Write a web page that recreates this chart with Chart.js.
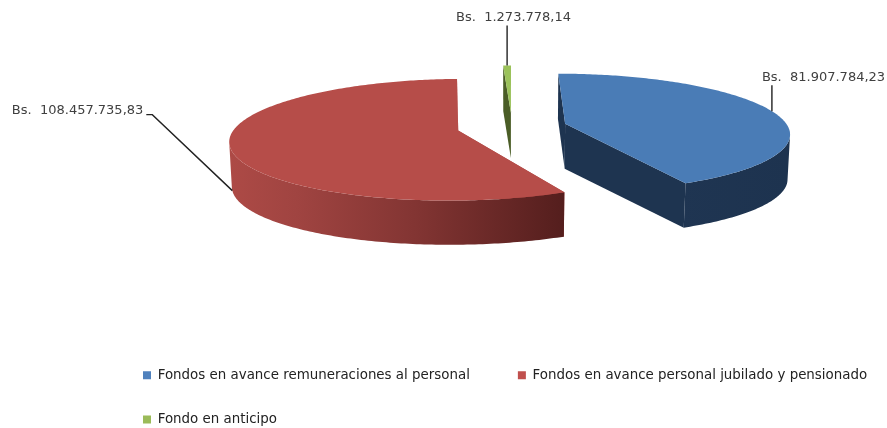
<!DOCTYPE html>
<html>
<head>
<meta charset="utf-8">
<title>Fondos</title>
<script src="https://cdn.jsdelivr.net/npm/chart.js@4/dist/chart.umd.js"></script>
<style>
  html, body { margin: 0; padding: 0; background: #fff; }
  canvas { display: block; filter: blur(0.4px); }
</style>
</head>
<body>
<canvas id="pieChart" width="887" height="428"></canvas>
<script>
const categories = [
  "Fondos en avance remuneraciones al personal",
  "Fondos en avance personal jubilado y pensionado",
  "Fondo en anticipo",
];
const amounts = [81907784.23, 108457735.83, 1273778.14];
const topColors = ["#4a7cb6", "#b64d49", "#9bc25a"];
const legendColors = ["#4f81bd", "#c0504d", "#9bbb59"];

// side wall shading per slice: [position across the slice, colour]
const sideShades = [
  [[0, "#1e3450"], [0.5, "#1f3552"], [1, "#1d334f"]],
  [[0, "#ad4a46"], [0.2, "#a04441"], [0.55, "#833533"], [1, "#541e1d"]],
  [[0, "#4a5d26"], [1, "#55692c"]],
];

// camera used to tip the pie over
const view = { x: 512, y: 127, tilt: 0.262, dist: 1500, depth: 45, sink: 0.3 };

function project(u, v, h) {
  const s = view.dist / (view.dist - v + h * view.sink);
  return { x: view.x + u * s, y: view.y + v * view.tilt * s + h };
}

function slicePoint(arc, angle, r, h) {
  const mid = (arc.startAngle + arc.endAngle) / 2;
  const off = arc.options.offset;
  const u = Math.cos(mid) * off + Math.cos(angle) * r;
  const v = Math.sin(mid) * off + Math.sin(angle) * r;
  return project(u, v, h);
}

function fillPoly(ctx, pts, fill) {
  ctx.beginPath();
  pts.forEach((p, i) => (i ? ctx.lineTo(p.x, p.y) : ctx.moveTo(p.x, p.y)));
  ctx.closePath();
  ctx.fillStyle = fill;
  ctx.fill();
}

function rimAngles(arc) {
  const out = [];
  const steps = Math.max(4, Math.ceil((arc.endAngle - arc.startAngle) / 0.015));
  for (let i = 0; i <= steps; i++) {
    out.push(arc.startAngle + ((arc.endAngle - arc.startAngle) * i) / steps);
  }
  return out;
}

function drawSlice(ctx, arc, index) {
  const R = arc.outerRadius;
  const angles = rimAngles(arc);
  const top = angles.map((a) => slicePoint(arc, a, R, 0));
  const bottom = angles.map((a) => slicePoint(arc, a, R, view.depth));
  const last = angles.length - 1;
  const apexTop = slicePoint(arc, 0, 0, 0);
  const apexBottom = slicePoint(arc, 0, 0, view.depth);

  const xs = top.concat(bottom).map((p) => p.x);
  const grad = ctx.createLinearGradient(Math.min(...xs), 0, Math.max(...xs), 0);
  sideShades[index].forEach(([at, c]) => grad.addColorStop(at, c));

  // the two cut walls, then the rim, then the top face over them
  fillPoly(ctx, [apexTop, top[0], bottom[0], apexBottom], sideShades[index][0][1]);
  fillPoly(ctx, [apexTop, top[last], bottom[last], apexBottom], sideShades[index][0][1]);
  // only the part of the rim that faces the viewer runs right to left
  const front = [];
  for (let i = 0; i <= last; i++) {
    if ((i < last && top[i + 1].x < top[i].x) || (i > 0 && top[i].x < top[i - 1].x)) front.push(i);
  }
  if (front.length) {
    const upper = front.map((i) => top[i]);
    const lower = front.map((i) => bottom[i]).reverse();
    fillPoly(ctx, upper.concat(lower), grad);
  }
  fillPoly(ctx, [apexTop].concat(top), topColors[index]);
}

function money(value) {
  return "Bs.  " + value.toLocaleString("de-DE", { minimumFractionDigits: 2, maximumFractionDigits: 2 });
}

// leader line: from the slice rim, through a bend, to the label
function drawLeader(ctx, arc, index) {
  const mid = (arc.startAngle + arc.endAngle) / 2;
  const text = money(amounts[index]);
  const onSide = index === 1;
  const start = slicePoint(arc, mid, arc.outerRadius, onSide ? view.depth : 0);

  ctx.strokeStyle = "#222";
  ctx.lineWidth = 1.4;
  ctx.beginPath();
  ctx.moveTo(start.x, start.y);
  if (onSide) {
    ctx.lineTo(start.x - 80, start.y - 76);
    ctx.lineTo(start.x - 86, start.y - 76);
  } else {
    ctx.lineTo(start.x, start.y - (index === 2 ? 40 : 26));
  }
  ctx.stroke();

  ctx.fillStyle = "#404040";
  ctx.font = "13px 'DejaVu Sans'";
  ctx.textBaseline = "middle";
  if (onSide) {
    ctx.textAlign = "right";
    ctx.fillText(text, start.x - 89, start.y - 80);
  } else {
    ctx.textAlign = "left";
    const dx = index === 2 ? -51 : -10;
    const dy = index === 2 ? -48 : -34;
    ctx.fillText(text, start.x + dx, start.y + dy);
  }
}

const pie3d = {
  id: "pie3d",
  afterLayout(chart) {
    // legend sits left aligned under the pie, right edge only decides the wrap
    chart.legend.left = 112;
    chart.legend.right = 930;
    chart.legend.top = 337.5;
  },
  beforeDatasetsDraw(chart) {
    const ctx = chart.ctx;
    const arcs = chart.getDatasetMeta(0).data;
    ctx.save();
    arcs.forEach((arc, i) => drawSlice(ctx, arc, i));
    arcs.forEach((arc, i) => drawLeader(ctx, arc, i));
    ctx.restore();
    return false; // slices are already painted
  },
};

new Chart(document.getElementById("pieChart"), {
  type: "pie",
  data: {
    labels: categories,
    datasets: [
      {
        data: amounts,
        backgroundColor: legendColors,
        borderWidth: 0,
        offset: 55,
        radius: 223,
      },
    ],
  },
  options: {
    responsive: false,
    animation: false,
    plugins: {
      tooltip: { enabled: false },
      legend: {
        position: "bottom",
        align: "start",
        labels: {
          boxWidth: 8,
          boxHeight: 8,
          padding: 31,
          color: "#222",
          font: { family: "'DejaVu Sans'", size: 13.4 },
          generateLabels(chart) {
            const items = Chart.overrides.pie.plugins.legend.labels.generateLabels(chart);
            // wider gap after the first entry of the row
            items[0].text += "\u00a0\u00a0\u00a0\u00a0";
            return items;
          },
        },
      },
    },
  },
  plugins: [pie3d],
});
</script>
</body>
</html>
